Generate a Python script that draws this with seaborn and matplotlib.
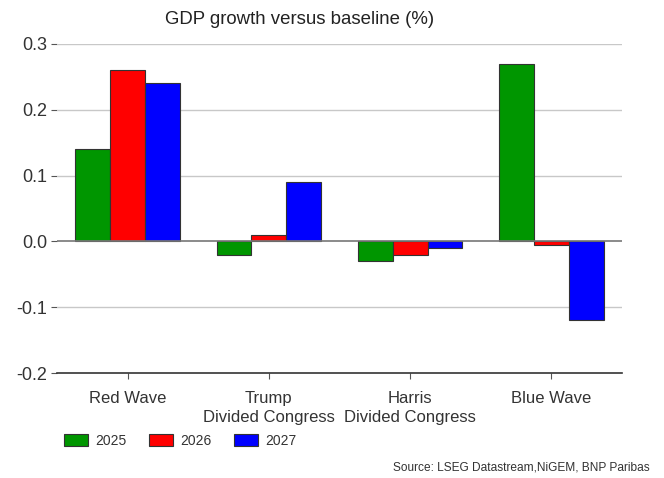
import matplotlib
matplotlib.use("Agg")
import matplotlib.pyplot as plt
import seaborn as sns
import pandas as pd
from matplotlib.patches import Patch

categories = ["Red Wave", "Trump\nDivided Congress", "Harris\nDivided Congress", "Blue Wave"]
years = ["2025", "2026", "2027"]
v2025 = [0.14, -0.02, -0.03, 0.27]
v2026 = [0.26, 0.01, -0.02, -0.005]
v2027 = [0.24, 0.09, -0.01, -0.12]
yticks = [-0.2, -0.1, 0.0, 0.1, 0.2, 0.3]
ytick_labels = ["-0.2", "-0.1", "0.0", "0.1", "0.2", "0.3"]
colors = ["#009600", "#FF0000", "#0000FF"]

rows = []
for y, vals in zip(years, [v2025, v2026, v2027]):
    for c, v in zip(categories, vals):
        rows.append({"scenario": c, "year": y, "value": v})
df = pd.DataFrame(rows)

sns.set_theme(style="white")
plt.rcParams["font.family"] = ["Liberation Sans", "DejaVu Sans"]
plt.rcParams["axes.unicode_minus"] = False

fig = plt.figure(figsize=(6.64, 4.78), dpi=100)
ax = fig.add_axes([57/664, 1 - 373/478, (622-57)/664, (373-44)/478])

sns.barplot(data=df, x="scenario", y="value", hue="year", order=categories,
            hue_order=years, palette=colors, saturation=1, width=0.74, gap=0,
            edgecolor="#333333", linewidth=0.8, ax=ax, legend=False, zorder=3)

ax.set_xlim(-0.5, 3.5)
ax.set_ylim(-0.2, 0.3)
ax.set_yticks(yticks)
ax.set_yticklabels(ytick_labels)
for y in [-0.1, 0.1, 0.2, 0.3]:
    ax.axhline(y, color="#c8c8c8", lw=1.0, zorder=1)
ax.axhline(0, color="#777777", lw=1.2, zorder=4)

for s in ["left", "right", "top"]:
    ax.spines[s].set_visible(False)
ax.spines["bottom"].set_color("#333333")
ax.spines["bottom"].set_linewidth(1.2)

ax.set_xlabel("")
ax.set_ylabel("")
ax.tick_params(axis="y", length=4, width=0.8, color="#555555", labelsize=13,
               labelcolor="#333333", pad=3, left=True)
ax.tick_params(axis="x", length=4, width=0.8, color="#555555", labelsize=12,
               labelcolor="#333333", pad=9, bottom=True, direction="out")
for lbl in ax.get_xticklabels():
    lbl.set_linespacing(1.35)

fig.text(300/664, 1 - 20/478, "GDP growth versus baseline (%)", ha="center", va="center",
         fontsize=13.4, color="#222222")

handles = [Patch(facecolor=c, edgecolor="#333333", linewidth=0.8, label=y)
           for c, y in zip(colors, years)]
fig.legend(handles=handles, loc="center left", bbox_to_anchor=(60/664, 1 - 441/478),
           ncol=3, frameon=False, fontsize=10, handlelength=1.75, handleheight=0.9,
           handletextpad=0.5, columnspacing=1.6, labelcolor="#333333", borderaxespad=0,
           borderpad=0.3)

fig.text(650/664, 1 - 467/478, "Source: LSEG Datastream,NiGEM, BNP Paribas", ha="right",
         va="center", fontsize=8.6, color="#333333")

fig.savefig("out.png", dpi=100)
